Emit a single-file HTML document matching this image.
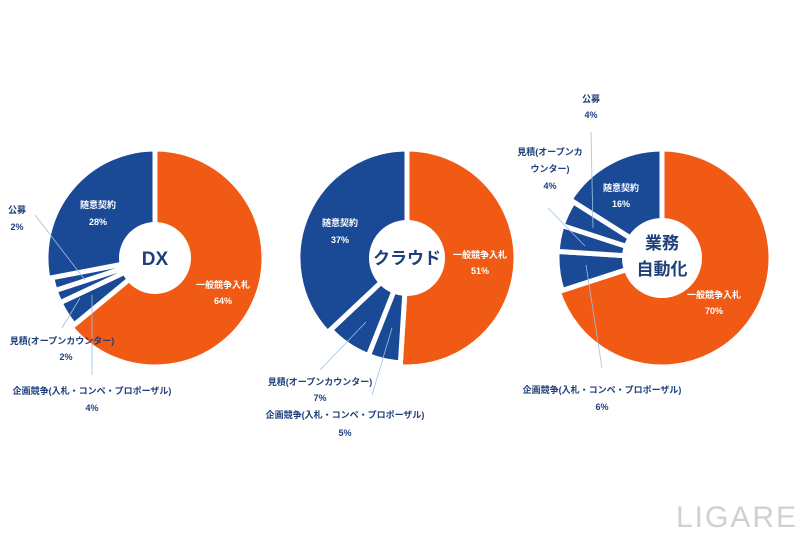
<!DOCTYPE html>
<html><head><meta charset="utf-8"><style>
html,body{margin:0;padding:0;background:#fff;}
svg{display:block;font-family:"Liberation Sans","Noto Sans CJK JP",sans-serif;font-weight:bold;}
.l{fill:#1e3f7a;font-size:9px;}
.w{fill:#fff;font-size:9px;}
</style></head><body>
<svg id="s" width="800" height="533" viewBox="0 0 800 533">
<g id="p"></g>
<g stroke="#9cc3e0" stroke-width="0.8" fill="none">
<line x1="35" y1="215" x2="85" y2="280"/>
<line x1="80" y1="298" x2="62" y2="328"/>
<line x1="92" y1="295" x2="92" y2="375"/>
<line x1="366" y1="322" x2="320" y2="370"/>
<line x1="392" y1="328" x2="372" y2="395"/>
<line x1="591" y1="132" x2="593" y2="228"/>
<line x1="548" y1="208" x2="585" y2="246"/>
<line x1="586" y1="265" x2="602" y2="368"/>
</g>
<circle cx="155" cy="258" r="36" fill="#fff"/>
<circle cx="407" cy="258" r="38" fill="#fff"/>
<circle cx="662" cy="258" r="40" fill="#fff"/>
<text x="155" y="265" text-anchor="middle" fill="#1e3f7a" font-size="19">DX</text>
<text x="407" y="264" text-anchor="middle" fill="#1e3f7a" font-size="17">クラウド</text>
<text x="662" y="249" text-anchor="middle" fill="#1e3f7a" font-size="17">業務</text>
<text x="662" y="275" text-anchor="middle" fill="#1e3f7a" font-size="17">自動化</text>
<text class="w" x="98" y="208" text-anchor="middle">随意契約</text>
<text class="w" x="98" y="225" text-anchor="middle">28%</text>
<text class="w" x="223" y="288" text-anchor="middle">一般競争入札</text>
<text class="w" x="223" y="304" text-anchor="middle">64%</text>
<text class="l" x="17" y="213" text-anchor="middle">公募</text>
<text class="l" x="17" y="230" text-anchor="middle">2%</text>
<text class="l" x="62" y="344" text-anchor="middle">見積(オープンカウンター)</text>
<text class="l" x="66" y="360" text-anchor="middle">2%</text>
<text class="l" x="92" y="394" text-anchor="middle">企画競争(入札・コンペ・プロポーザル)</text>
<text class="l" x="92" y="411" text-anchor="middle">4%</text>
<text class="w" x="340" y="226" text-anchor="middle">随意契約</text>
<text class="w" x="340" y="243" text-anchor="middle">37%</text>
<text class="w" x="480" y="258" text-anchor="middle">一般競争入札</text>
<text class="w" x="480" y="274" text-anchor="middle">51%</text>
<text class="l" x="320" y="385" text-anchor="middle">見積(オープンカウンター)</text>
<text class="l" x="320" y="401" text-anchor="middle">7%</text>
<text class="l" x="345" y="418" text-anchor="middle">企画競争(入札・コンペ・プロポーザル)</text>
<text class="l" x="345" y="436" text-anchor="middle">5%</text>
<text class="w" x="621" y="191" text-anchor="middle">随意契約</text>
<text class="w" x="621" y="207" text-anchor="middle">16%</text>
<text class="w" x="714" y="298" text-anchor="middle">一般競争入札</text>
<text class="w" x="714" y="314" text-anchor="middle">70%</text>
<text class="l" x="591" y="102" text-anchor="middle">公募</text>
<text class="l" x="591" y="118" text-anchor="middle">4%</text>
<text class="l" x="550" y="155" text-anchor="middle">見積(オープンカ</text>
<text class="l" x="550" y="172" text-anchor="middle">ウンター)</text>
<text class="l" x="550" y="189" text-anchor="middle">4%</text>
<text class="l" x="602" y="393" text-anchor="middle">企画競争(入札・コンペ・プロポーザル)</text>
<text class="l" x="602" y="410" text-anchor="middle">6%</text>
<text x="737" y="527" text-anchor="middle" fill="#d0d0d0" font-size="30" font-weight="normal" letter-spacing="2">LIGARE</text>
</svg>
<script>
var g=document.getElementById('p'),ns='http://www.w3.org/2000/svg';
function pie(cx,cy,r,vals){var a=0,t=vals.reduce(function(s,v){return s+v},0);
vals.forEach(function(v,i){var a0=a,a1=a+v/t*2*Math.PI;a=a1;
var rr=(i>0&&i<vals.length-1)?r-4:r;
var x0=cx+rr*Math.sin(a0),y0=cy-rr*Math.cos(a0),x1=cx+rr*Math.sin(a1),y1=cy-rr*Math.cos(a1);
var p=document.createElementNS(ns,'path');
p.setAttribute('d','M'+cx+','+cy+'L'+x0+','+y0+'A'+rr+','+rr+' 0 '+((a1-a0)>Math.PI?1:0)+' 1 '+x1+','+y1+'Z');
p.setAttribute('fill',i==0?'#f05a14':'#1a4a96');p.setAttribute('stroke','#fff');p.setAttribute('stroke-width','5');p.setAttribute('stroke-linejoin','round');
g.appendChild(p);});}
pie(155,258,109,[64,4,2,2,28]);
pie(407,258,109,[51,5,7,37]);
pie(662,258,109,[70,6,4,4,16]);
</script>
</body></html>
